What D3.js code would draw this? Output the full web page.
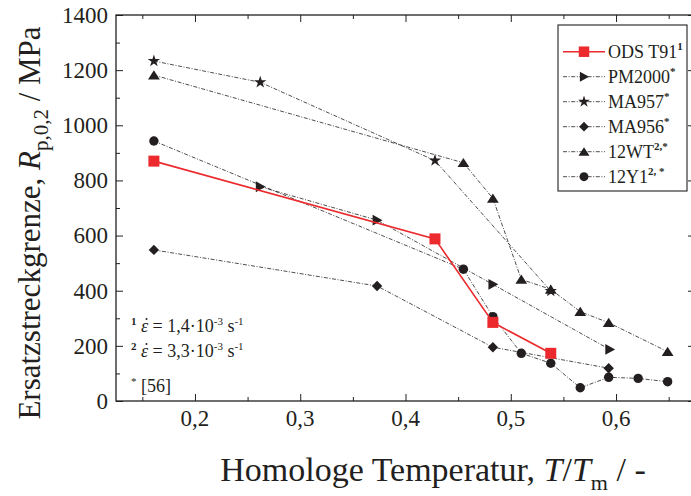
<!DOCTYPE html>
<html><head><meta charset="utf-8">
<script src="https://cdn.jsdelivr.net/npm/d3@7"></script>
<style>body{margin:0;background:#fff}svg{display:block}</style>
</head><body><svg id="c" width="691" height="496"></svg>
<script>
// ---- data ----
const seriesNames = ["ODS T91", "PM2000", "MA957", "MA956", "12WT", "12Y1"];
const seriesSup = ["1", "*", "*", "*", "2,*", "2, *"];
const odsT91X = [0.161, 0.428, 0.483, 0.538];
const odsT91Y = [870, 588, 285, 173];
const pm2000X = [0.262, 0.373, 0.483, 0.594];
const pm2000Y = [777, 656, 423, 187];
const ma957X = [0.161, 0.262, 0.428, 0.538];
const ma957Y = [1233, 1156, 872, 399];
const ma956X = [0.161, 0.373, 0.483, 0.593];
const ma956Y = [548, 417, 195, 119];
const wt12X = [0.161, 0.455, 0.483, 0.510, 0.538, 0.566, 0.593, 0.649];
const wt12Y = [1182, 864, 735, 441, 405, 324, 284, 179];
const y1X = [0.161, 0.455, 0.483, 0.510, 0.538, 0.566, 0.593, 0.621, 0.649];
const y1Y = [943, 478, 306, 173, 137, 48, 86, 82, 70];
const xMajorTicks = [0.2, 0.3, 0.4, 0.5, 0.6];
const xTickLabels = ["0,2", "0,3", "0,4", "0,5", "0,6"];
const yMajorTicks = [0, 200, 400, 600, 800, 1000, 1200, 1400];

// ---- layout ----
const FONT = "Liberation Serif";
const L = 116, R = 695, T = 15, B = 401;
const svg = d3.select("#c");
const x = d3.scaleLinear().domain([0.125, 0.675]).range([L, R]);
const y = d3.scaleLinear().domain([0, 1400]).range([B, T]);
const red = "#ec2a2d", ink = "#231f20";

const xMinor = d3.range(0.15, 0.675, 0.1);
const yMinor = d3.range(100, 1400, 200);

function ax(gen, tr) {
  return svg.append("g").attr("transform", tr).call(gen)
    .call(g => g.select(".domain").remove())
    .call(g => g.selectAll("line").attr("stroke", ink).attr("stroke-width", 1));
}
ax(d3.axisBottom(x).tickValues(xMajorTicks).tickSize(-7).tickFormat(""), `translate(0,${B})`);
ax(d3.axisBottom(x).tickValues(xMinor).tickSize(-4).tickFormat(""), `translate(0,${B})`);
ax(d3.axisTop(x).tickValues(xMajorTicks).tickSize(-7).tickFormat(""), `translate(0,${T})`);
ax(d3.axisTop(x).tickValues(xMinor).tickSize(-4).tickFormat(""), `translate(0,${T})`);
ax(d3.axisLeft(y).tickValues(yMajorTicks).tickSize(-7).tickFormat(""), `translate(${L},0)`);
ax(d3.axisLeft(y).tickValues(yMinor).tickSize(-4).tickFormat(""), `translate(${L},0)`);
ax(d3.axisRight(y).tickValues(yMajorTicks).tickSize(-7).tickFormat(""), `translate(${R},0)`);
ax(d3.axisRight(y).tickValues(yMinor).tickSize(-4).tickFormat(""), `translate(${R},0)`);

svg.append("rect").attr("x", L).attr("y", T).attr("width", R - L).attr("height", B - T)
  .attr("fill", "none").attr("stroke", ink).attr("stroke-width", 1.3);

function T_(sel) { return sel.append("text").attr("font-family", FONT).attr("fill", ink); }

svg.append("g").selectAll("text").data(xMajorTicks).join("text")
  .attr("font-family", FONT).attr("fill", ink)
  .attr("x", d => x(d)).attr("y", 426).attr("text-anchor", "middle")
  .attr("font-size", 23).text((d, i) => xTickLabels[i]);
svg.append("g").selectAll("text").data(yMajorTicks).join("text")
  .attr("font-family", FONT).attr("fill", ink)
  .attr("x", L - 8).attr("y", d => y(d)).attr("dy", "0.34em").attr("text-anchor", "end")
  .attr("font-size", 23).text(d => d);

const yt = T_(svg).attr("transform", "translate(40,223) rotate(-90)")
  .attr("text-anchor", "middle").attr("font-size", 31);
yt.append("tspan").text("Ersatzstreckgrenze, ");
yt.append("tspan").attr("font-style", "italic").text("R");
yt.append("tspan").attr("font-size", 21).attr("dy", 8).text("p,0,2");
yt.append("tspan").attr("dy", -8).text(" / MPa");

const xt = T_(svg).attr("x", 433).attr("y", 481)
  .attr("text-anchor", "middle").attr("font-size", 34);
xt.append("tspan").text("Homologe Temperatur, ");
xt.append("tspan").attr("font-style", "italic").text("T");
xt.append("tspan").text("/");
xt.append("tspan").attr("font-style", "italic").text("T");
xt.append("tspan").attr("font-size", 22).attr("dy", 9).text("m");
xt.append("tspan").attr("dy", -9).text(" / -");

const triRight = { draw(ctx, s) { const h = Math.sqrt(s) * 1.1; ctx.moveTo(h * 0.55, 0); ctx.lineTo(-h * 0.45, -h * 0.55); ctx.lineTo(-h * 0.45, h * 0.55); ctx.closePath(); } };
const diamond = { draw(ctx, s) { const r = Math.sqrt(s) * 0.6; ctx.moveTo(0, -r); ctx.lineTo(r, 0); ctx.lineTo(0, r); ctx.lineTo(-r, 0); ctx.closePath(); } };
const triUp = { draw(ctx, s) { const w = Math.sqrt(s) * 1.2; ctx.moveTo(0, -w * 0.45); ctx.lineTo(w * 0.55, w * 0.4); ctx.lineTo(-w * 0.55, w * 0.4); ctx.closePath(); } };

const series = [
  { xs: pm2000X, ys: pm2000Y, sym: triRight, size: 80 },
  { xs: ma957X, ys: ma957Y, sym: d3.symbolStar, size: 48 },
  { xs: ma956X, ys: ma956Y, sym: diamond, size: 75 },
  { xs: wt12X, ys: wt12Y, sym: triUp, size: 80 },
  { xs: y1X, ys: y1Y, sym: d3.symbolCircle, size: 70 },
];
const line = d3.line().x(d => x(d[0])).y(d => y(d[1]));
const dash = "4,1.6,1,1.6";

series.forEach(s => {
  const pts = s.xs.map((v, i) => [v, s.ys[i]]);
  svg.append("path").datum(pts).attr("d", line).attr("fill", "none")
    .attr("stroke", ink).attr("stroke-width", 0.8).attr("stroke-dasharray", dash);
});
series.forEach(s => {
  const pts = s.xs.map((v, i) => [v, s.ys[i]]);
  svg.append("g").selectAll("path").data(pts).join("path")
    .attr("transform", d => `translate(${x(d[0])},${y(d[1])})`)
    .attr("d", d3.symbol(s.sym, s.size)).attr("fill", ink);
});
const redPts = odsT91X.map((v, i) => [v, odsT91Y[i]]);
svg.append("path").datum(redPts).attr("d", line).attr("fill", "none")
  .attr("stroke", red).attr("stroke-width", 1.6);
svg.append("g").selectAll("path").data(redPts).join("path")
  .attr("transform", d => `translate(${x(d[0])},${y(d[1])})`)
  .attr("d", d3.symbol(d3.symbolSquare, 121)).attr("fill", red);

// legend
const lg = svg.append("g");
lg.append("rect").attr("x", 558).attr("y", 25).attr("width", 129).attr("height", 166)
  .attr("fill", "#fff").attr("stroke", ink).attr("stroke-width", 1.1);
const legSyms = [
  { sym: d3.symbolSquare, size: 110, col: red, solid: true },
  { sym: triRight, size: 70, col: ink },
  { sym: d3.symbolStar, size: 42, col: ink },
  { sym: diamond, size: 65, col: ink },
  { sym: triUp, size: 70, col: ink },
  { sym: d3.symbolCircle, size: 62, col: ink },
];
seriesNames.forEach((name, i) => {
  const cy = 51.7 + i * 25;
  const st = legSyms[i];
  lg.append("line").attr("x1", 563).attr("x2", 605).attr("y1", cy).attr("y2", cy)
    .attr("stroke", st.col).attr("stroke-width", st.solid ? 1.6 : 0.8)
    .attr("stroke-dasharray", st.solid ? null : dash);
  lg.append("path").attr("transform", `translate(584,${cy})`)
    .attr("d", d3.symbol(st.sym, st.size)).attr("fill", st.col);
  const t = T_(lg).attr("x", 608).attr("y", cy + 6).attr("font-size", 18);
  t.append("tspan").text(name);
  t.append("tspan").attr("font-size", 11).attr("font-weight", "bold").attr("dy", -8).text(seriesSup[i]);
});

// annotation
function annLine(yb, sup, val) {
  const t = T_(svg).attr("x", 131).attr("y", yb).attr("font-size", 18);
  t.append("tspan").attr("font-size", 11).attr("font-weight", "bold").attr("dy", -7).text(sup);
  t.append("tspan").attr("dy", 7).text(" ");
  t.append("tspan").attr("font-style", "italic").text("\u03B5");
  t.append("tspan").text(" = " + val + "\u00B710");
  t.append("tspan").attr("font-size", 11).attr("dy", -7).text("-3");
  t.append("tspan").attr("dy", 7).text(" s");
  t.append("tspan").attr("font-size", 11).attr("dy", -7).text("-1");
  svg.append("circle").attr("cx", 146.5).attr("cy", yb - 13).attr("r", 1).attr("fill", ink);
}
annLine(332, "1", "1,4");
annLine(357, "2", "3,3");
const t3 = T_(svg).attr("x", 131).attr("y", 392).attr("font-size", 18);
t3.append("tspan").attr("font-size", 11).attr("dy", -7).text("*");
t3.append("tspan").attr("dy", 7).text(" [56]");
</script></body></html>
